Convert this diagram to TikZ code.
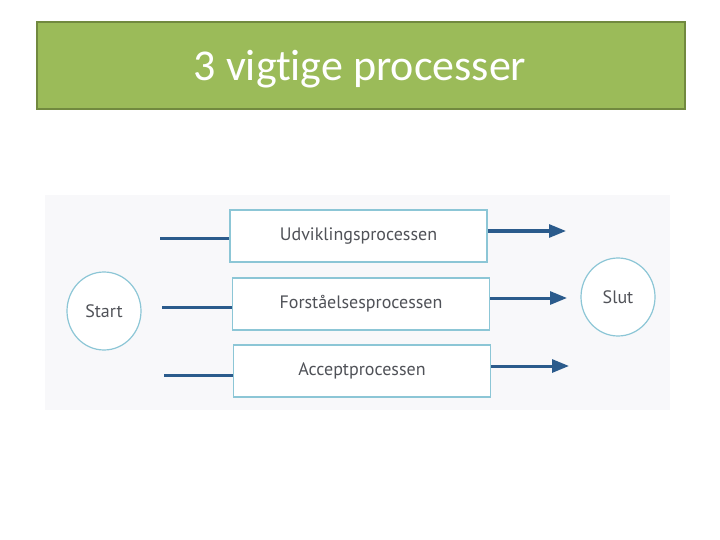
\documentclass[tikz,border=0pt]{standalone}
\usepackage{fontspec}
\setmainfont{Carlito}[Ligatures=NoCommon]
\newfontfamily\diafont{PT Sans}
\usetikzlibrary{arrows.meta,shapes.geometric}
\definecolor{titlegreen}{HTML}{9BBB59}
\definecolor{titleedge}{HTML}{71893F}
\definecolor{boxedge}{HTML}{8CC6D6}
\definecolor{linkblue}{HTML}{2B5B8C}
\definecolor{textgray}{HTML}{505258}
\definecolor{photobg}{HTML}{F8F8FA}
\tikzset{
  procbox/.style={draw=boxedge, line width=1.5pt, fill=white, minimum width=257pt, minimum height=52pt, inner sep=0pt, font=\diafont\fontsize{18}{21}\selectfont, text=textgray},
  endcircle/.style={draw=boxedge, line width=1.2pt, ellipse, fill=white, minimum width=74pt, minimum height=78pt, inner sep=0pt, font=\diafont\fontsize{18}{21}\selectfont, text=textgray},
  link/.style={draw=linkblue, line width=3pt},
  arrowlink/.style={link, -{Triangle[length=17pt,width=13pt]}}
}
\begin{document}
\begin{tikzpicture}[x=1pt,y=-1pt]
\useasboundingbox (0,0) rectangle (720,540);
\fill[white] (0,0) rectangle (720,540);
\node[draw=titleedge, line width=2pt, fill=titlegreen, minimum width=648pt, minimum height=87pt, inner sep=0pt] (title) at (360.5,66) {};
\node[text=white, font=\fontsize{44}{50}\selectfont, inner sep=0pt] (titletext) at (360,69) {3 vigtige processer};
\fill[photobg] (45,195) rectangle (670,410);
\node[procbox] (b1) at (358.5,236) {Udviklingsprocessen};
\node[procbox] (b2) at (361,304) {Forståelsesprocessen};
\node[procbox] (b3) at (362,371) {Acceptprocessen};
\node[endcircle] (start) at (104,311) {Start};
\node[endcircle] (slut) at (618,297) {Slut};
\coordinate (l1) at (160,238);
\coordinate (l2) at (162,307);
\coordinate (l3) at (164,375);
\coordinate (r1) at (566,231);
\coordinate (r2) at (567,298);
\coordinate (r3) at (569,366);
\draw[link] (l1) -- (b1.west |- l1);
\draw[link] (l2) -- (b2.west |- l2);
\draw[link] (l3) -- (b3.west |- l3);
\draw[arrowlink] (b1.east |- r1) -- (r1);
\draw[arrowlink] (b2.east |- r2) -- (r2);
\draw[arrowlink] (b3.east |- r3) -- (r3);
\end{tikzpicture}
\end{document}
